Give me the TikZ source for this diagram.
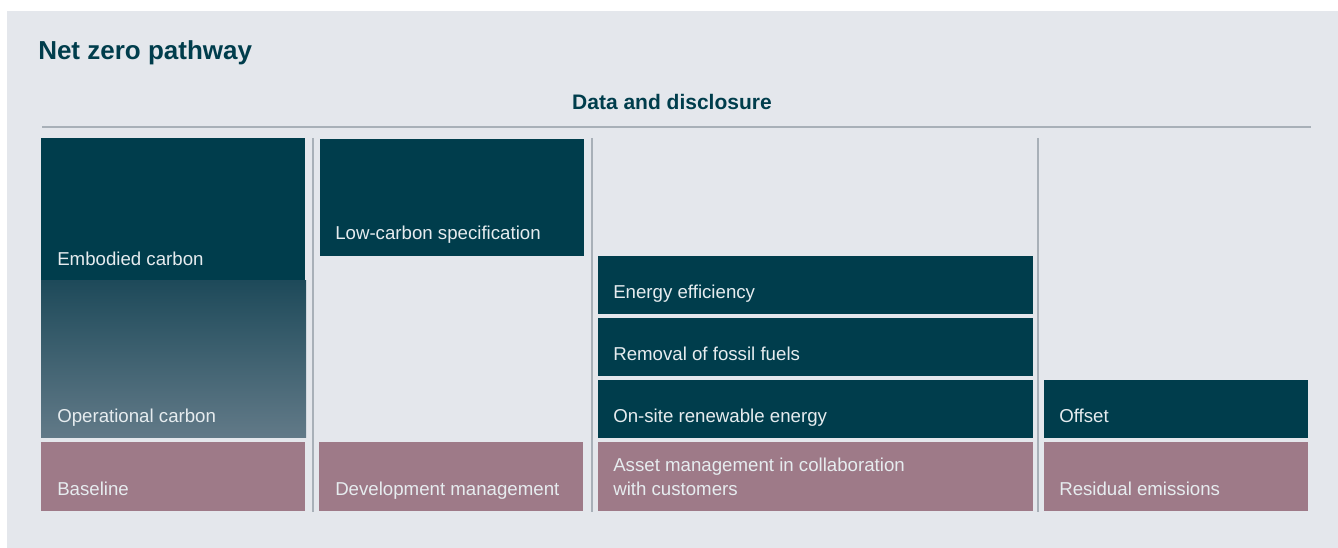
\documentclass[tikz,border=0pt]{standalone}
\usepackage{fontspec}
\setmainfont{Liberation Sans}
\definecolor{bgc}{HTML}{E4E7EC}
\definecolor{nzteal}{HTML}{003D4C}
\definecolor{mauve}{HTML}{9E7A88}
\definecolor{sepc}{HTML}{A8B0B8}
\definecolor{lbl}{HTML}{E6ECEF}
\definecolor{gtop}{HTML}{1E4A5A}
\definecolor{gmid}{HTML}{56707F}
\definecolor{gbot}{HTML}{627A88}
\begin{document}
\begin{tikzpicture}[x=0.75pt,y=-0.75pt,
  lab/.style={anchor=base west, inner sep=0pt, text=lbl, font=\fontsize{14}{18}\selectfont},
  darkbox/.style={fill=nzteal},
  pinkbox/.style={fill=mauve},
  sepline/.style={draw=sepc, line width=1.1pt}]
\useasboundingbox (0,0) rectangle (1338,548);
\fill[bgc] (7,11) rectangle (1338,548);
% titles
\node[anchor=base west, inner sep=0pt, text=nzteal, font=\bfseries\fontsize{19.5}{24}\selectfont] (title) at (38,60) {Net zero pathway};
\node[anchor=base, inner sep=0pt, text=nzteal, font=\bfseries\fontsize{15.75}{20}\selectfont] (dd) at (672,110) {Data and disclosure};
\draw[draw=sepc, line width=1.5pt] (42,127) -- (1311,127);
% separators
\draw[sepline] (313,138) -- (313,512);
\draw[sepline] (592,138) -- (592,512);
\draw[sepline] (1038,138) -- (1038,512);
% column 1
\fill[darkbox] (41,138) rectangle (305,281);
\shade[top color=gtop, middle color=gmid, bottom color=gbot] (41,281) rectangle (306,438);
\fill[pinkbox] (41,442) rectangle (305,511);
\node[lab] (emb) at (57,266) {Embodied carbon};
\node[lab] (op) at (57,423) {Operational carbon};
\node[lab] (base) at (57,495) {Baseline};
% column 2
\fill[darkbox] (320,139) rectangle (584,256);
\fill[pinkbox] (319,442) rectangle (583,511);
\node[lab] (low) at (335,240) {Low-carbon specification};
\node[lab] (dev) at (335,495) {Development management};
% column 3
\fill[darkbox] (598,256) rectangle (1033,314);
\fill[darkbox] (598,318) rectangle (1033,376);
\fill[darkbox] (598,380) rectangle (1033,438);
\fill[pinkbox] (598,442) rectangle (1033,511);
\node[lab] (ee) at (613,299) {Energy efficiency};
\node[lab] (rf) at (613,361) {Removal of fossil fuels};
\node[lab] (os) at (613,423) {On-site renewable energy};
\node[lab, align=left] (am) at (613,495) {Asset management in collaboration\\with customers};
% column 4
\fill[darkbox] (1044,380) rectangle (1308,438);
\fill[pinkbox] (1044,442) rectangle (1308,511);
\node[lab] (off) at (1059,423) {Offset};
\node[lab] (res) at (1059,495) {Residual emissions};
\end{tikzpicture}
\end{document}
